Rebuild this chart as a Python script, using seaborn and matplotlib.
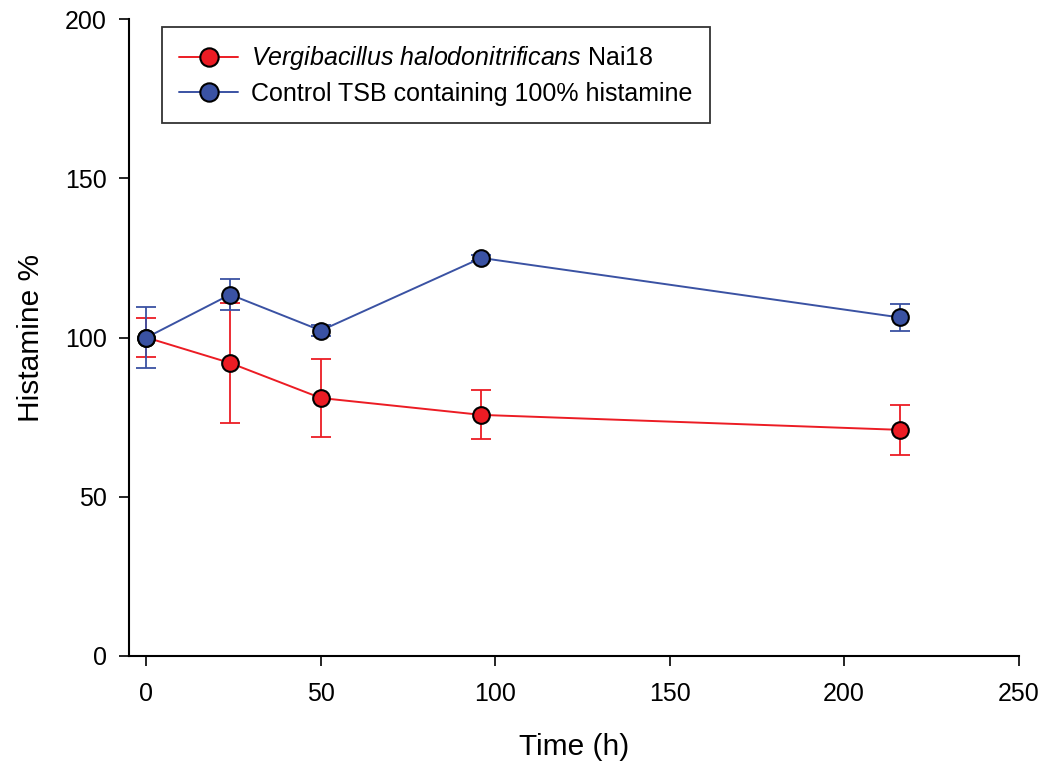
import matplotlib
matplotlib.use("Agg")
import matplotlib.pyplot as plt
import pandas as pd
import seaborn as sns

# sampling times (h)
time_h = [0, 24, 50, 96, 216]

# Vergibacillus halodonitrificans Nai18
nai18_mean = [100, 92, 81, 75.7, 71]
nai18_err = [6, 19, 12.4, 7.7, 7.8]

# control TSB containing 100% histamine
control_mean = [100, 113.5, 102.2, 125, 106.3]
control_err = [9.5, 4.8, 1.7, 1.0, 4.2]

red = "#EC1C24"
blue = "#3A52A3"

sns.set_theme(style="ticks")
plt.rcParams["font.family"] = ["Liberation Sans", "DejaVu Sans"]
plt.rcParams["mathtext.fontset"] = "custom"
plt.rcParams["mathtext.rm"] = "Liberation Sans"
plt.rcParams["mathtext.it"] = "Liberation Sans:italic"
plt.rcParams["text.color"] = "black"
plt.rcParams["axes.labelcolor"] = "black"
plt.rcParams["xtick.color"] = "black"
plt.rcParams["ytick.color"] = "black"

df = pd.DataFrame({
    "time": time_h * 2,
    "value": nai18_mean + control_mean,
    "series": ["nai18"] * len(time_h) + ["control"] * len(time_h),
})

fig = plt.figure(figsize=(10.49, 7.68), dpi=100)
ax = fig.add_axes([0.123, 0.146, 0.848, 0.829])

# error bars first so markers sit on top
ax.errorbar(time_h, nai18_mean, yerr=nai18_err, fmt="none", ecolor=red,
            elinewidth=1.3, capsize=7, capthick=1.3, zorder=2)
ax.errorbar(time_h, control_mean, yerr=control_err, fmt="none", ecolor=blue,
            elinewidth=1.3, capsize=7, capthick=1.3, zorder=2)

sns.lineplot(data=df, x="time", y="value", hue="series",
             palette={"nai18": red, "control": blue},
             marker="o", markersize=12, markeredgecolor="black",
             markeredgewidth=1.5, linewidth=1.4, ax=ax, zorder=3)

ax.set_xlim(-5, 250)
ax.set_ylim(0, 200)
ax.set_xticks([0, 50, 100, 150, 200, 250])
ax.set_yticks([0, 50, 100, 150, 200])
ax.tick_params(labelsize=18, length=7, width=1.2, color="black")
ax.tick_params(axis="x", pad=12)
ax.tick_params(axis="y", pad=9)
for side in ["left", "bottom"]:
    ax.spines[side].set_linewidth(1.5)
    ax.spines[side].set_color("black")
sns.despine(ax=ax)

ax.set_xlabel("Time (h)", fontsize=21.5, labelpad=19)
ax.set_ylabel("Histamine %", fontsize=21.5, labelpad=14)

handles, _ = ax.get_legend_handles_labels()
leg = ax.legend(handles, [r"$\it{Vergibacillus\ halodonitrificans}$ Nai18",
                          "Control TSB containing 100% histamine"],
                loc="upper left", bbox_to_anchor=(0.037, 0.988),
                borderaxespad=0, fontsize=18, frameon=True, fancybox=False,
                edgecolor="black", borderpad=0.7, handlelength=2.36,
                labelspacing=0.38, handletextpad=0.52, markerscale=1.1)
leg.get_frame().set_linewidth(1.3)

fig.savefig("out.png", dpi=100)
